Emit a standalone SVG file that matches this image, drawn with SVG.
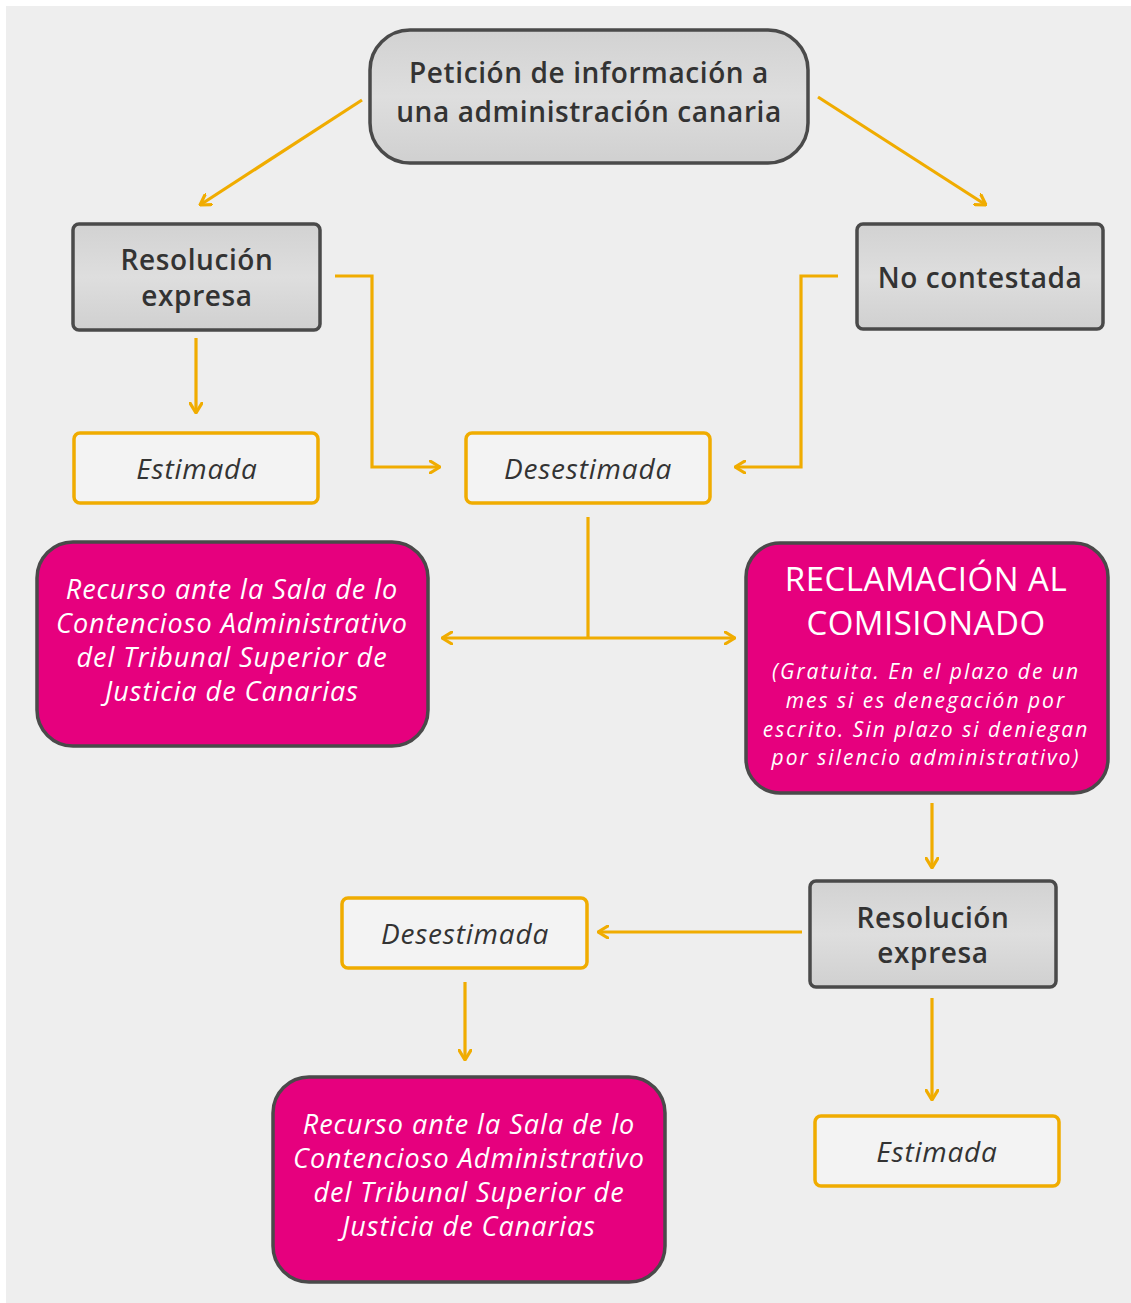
<svg xmlns="http://www.w3.org/2000/svg" width="1131" height="1303" viewBox="0 0 1131 1303">
<defs>
<marker id="ah" viewBox="0 0 12 14" refX="11" refY="7" markerWidth="12" markerHeight="14" markerUnits="userSpaceOnUse" orient="auto">
<path d="M1,1 L11,7 L1,13" fill="none" stroke="#f0ac00" stroke-width="3.2" stroke-linecap="round" stroke-linejoin="round"/>
</marker>
<marker id="ahs" viewBox="0 0 12 14" refX="1" refY="7" markerWidth="12" markerHeight="14" markerUnits="userSpaceOnUse" orient="auto">
<path d="M11,1 L1,7 L11,13" fill="none" stroke="#f0ac00" stroke-width="3.2" stroke-linecap="round" stroke-linejoin="round"/>
</marker>
<linearGradient id="gg" x1="0" y1="0" x2="0" y2="1">
<stop offset="0" stop-color="#d2d2d2"/>
<stop offset="0.5" stop-color="#dedede"/>
<stop offset="1" stop-color="#d0d0d0"/>
</linearGradient>
</defs>
<style>
.gray{fill:url(#gg);stroke:#4a4a4a;stroke-width:3.5}
.yel{fill:#f3f3f3;stroke:#f0ac00;stroke-width:3.5}
.pink{fill:#e6007e;stroke:#4a4a4a;stroke-width:3.5}
.gt{font-family:"Open Sans","Noto Sans",sans-serif;font-weight:600;font-size:28px;letter-spacing:0.6px;fill:#333;text-anchor:middle}
.yt{font-family:"Open Sans","Noto Sans",sans-serif;font-style:italic;font-weight:500;font-size:28px;letter-spacing:0.8px;fill:#333;text-anchor:middle}
.pt{font-family:"Open Sans","Noto Sans",sans-serif;font-style:italic;font-weight:500;font-size:27px;letter-spacing:1px;fill:#fff;text-anchor:middle}
.ph{font-family:"Open Sans","Noto Sans",sans-serif;font-weight:500;font-size:33px;letter-spacing:0.5px;fill:#fff;text-anchor:middle}
.ps{font-family:"Open Sans","Noto Sans",sans-serif;font-style:italic;font-weight:500;font-size:21px;letter-spacing:2px;fill:#fff;text-anchor:middle}
.c{fill:none;stroke:#f0ac00;stroke-width:3.2}
</style>
<rect x="0" y="0" width="1131" height="1303" fill="#ffffff"/>
<rect x="6" y="6" width="1125" height="1297" fill="#eeeeee"/>

<g id="connectors">
<line class="c" x1="362" y1="100" x2="200" y2="205" marker-end="url(#ah)"/>
<line class="c" x1="818" y1="97" x2="986" y2="205" marker-end="url(#ah)"/>
<line class="c" x1="196" y1="338" x2="196" y2="413" marker-end="url(#ah)"/>
<polyline class="c" points="335,276 372,276 372,467 440,467" marker-end="url(#ah)"/>
<polyline class="c" points="838,276 801,276 801,467 735,467" marker-end="url(#ah)"/>
<line class="c" x1="588" y1="517" x2="588" y2="638"/>
<line class="c" x1="442" y1="638" x2="735" y2="638" marker-start="url(#ahs)" marker-end="url(#ah)"/>
<line class="c" x1="932" y1="803" x2="932" y2="868" marker-end="url(#ah)"/>
<line class="c" x1="802" y1="932" x2="598" y2="932" marker-end="url(#ah)"/>
<line class="c" x1="465" y1="982" x2="465" y2="1060" marker-end="url(#ah)"/>
<line class="c" x1="932" y1="998" x2="932" y2="1100" marker-end="url(#ah)"/>
</g>

<g id="peticion">
<rect class="gray" x="370" y="30" width="438" height="133" rx="40"/>
<text class="gt" x="589" y="83" font-size="30" letter-spacing="1.1">Petición de información a</text>
<text class="gt" x="589" y="122" font-size="30" letter-spacing="1.1">una administración canaria</text>
</g>

<g id="resolucion1">
<rect class="gray" x="73" y="224" width="247" height="106" rx="6"/>
<text class="gt" x="197" y="270">Resolución</text>
<text class="gt" x="197" y="306">expresa</text>
</g>

<g id="nocontestada">
<rect class="gray" x="857" y="224" width="246" height="105" rx="6"/>
<text class="gt" x="980" y="288" letter-spacing="0.2">No contestada</text>
</g>

<g id="estimada1">
<rect class="yel" x="74" y="433" width="244" height="70" rx="6"/>
<text class="yt" x="197" y="479">Estimada</text>
</g>

<g id="desestimada1">
<rect class="yel" x="466" y="433" width="244" height="70" rx="6"/>
<text class="yt" x="588" y="479">Desestimada</text>
</g>

<g id="recurso1">
<rect class="pink" x="37" y="542" width="391" height="204" rx="36"/>
<text class="pt" x="232" y="599">Recurso ante la Sala de lo</text>
<text class="pt" x="232" y="633">Contencioso Administrativo</text>
<text class="pt" x="232" y="667">del Tribunal Superior de</text>
<text class="pt" x="232" y="701">Justicia de Canarias</text>
</g>

<g id="reclamacion">
<rect class="pink" x="746" y="543" width="362" height="250" rx="34"/>
<text class="ph" x="926" y="591">RECLAMACIÓN AL</text>
<text class="ph" x="926" y="635">COMISIONADO</text>
<text class="ps" x="926" y="679">(Gratuita. En el plazo de un</text>
<text class="ps" x="926" y="708">mes si es denegación por</text>
<text class="ps" x="926" y="737">escrito. Sin plazo si deniegan</text>
<text class="ps" x="926" y="765">por silencio administrativo)</text>
</g>

<g id="resolucion2">
<rect class="gray" x="810" y="881" width="246" height="106" rx="6"/>
<text class="gt" x="933" y="928">Resolución</text>
<text class="gt" x="933" y="963">expresa</text>
</g>

<g id="desestimada2">
<rect class="yel" x="342" y="898" width="245" height="70" rx="6"/>
<text class="yt" x="465" y="944">Desestimada</text>
</g>

<g id="recurso2">
<rect class="pink" x="273" y="1077" width="392" height="205" rx="36"/>
<text class="pt" x="469" y="1134">Recurso ante la Sala de lo</text>
<text class="pt" x="469" y="1168">Contencioso Administrativo</text>
<text class="pt" x="469" y="1202">del Tribunal Superior de</text>
<text class="pt" x="469" y="1236">Justicia de Canarias</text>
</g>

<g id="estimada2">
<rect class="yel" x="815" y="1116" width="244" height="70" rx="6"/>
<text class="yt" x="937" y="1162">Estimada</text>
</g>
</svg>
